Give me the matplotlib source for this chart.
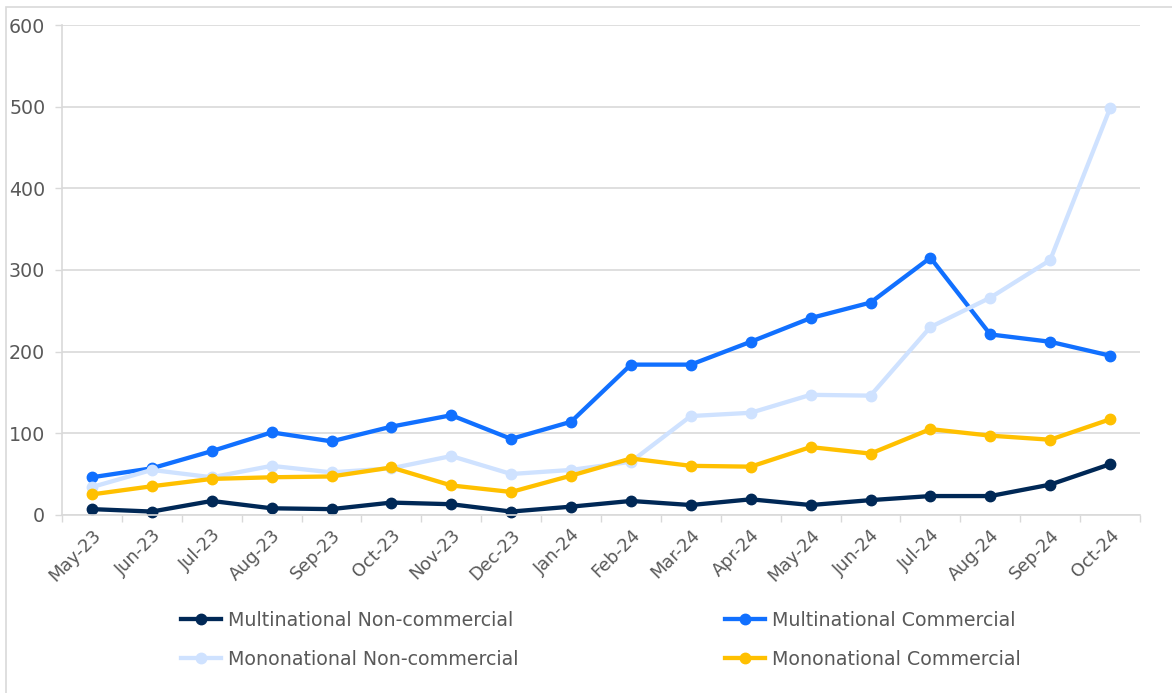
import numpy as np
import matplotlib.pyplot as plt
from matplotlib.patches import Rectangle

# data
months = ['May-23', 'Jun-23', 'Jul-23', 'Aug-23', 'Sep-23', 'Oct-23', 'Nov-23', 'Dec-23', 'Jan-24',
          'Feb-24', 'Mar-24', 'Apr-24', 'May-24', 'Jun-24', 'Jul-24', 'Aug-24', 'Sep-24', 'Oct-24']
multi_noncomm = [7, 4, 17, 8, 7, 15, 13, 4, 10, 17, 12, 19, 12, 18, 23, 23, 37, 62]
multi_comm = [46, 57, 78, 101, 90, 108, 122, 93, 114, 184, 184, 212, 241, 260, 315, 221, 212, 195]
mono_noncomm = [34, 55, 46, 60, 52, 57, 72, 50, 55, 65, 121, 125, 147, 146, 230, 266, 312, 498]
mono_comm = [25, 35, 44, 46, 47, 58, 36, 28, 48, 69, 60, 59, 83, 75, 105, 97, 92, 117]

names = ['Multinational Non-commercial', 'Multinational Commercial',
         'Mononational Non-commercial', 'Mononational Commercial']
colors = ['#002856', '#1170FF', '#CFE2FF', '#FFC000']

plt.rcParams['font.family'] = ['DejaVu Sans']

fig = plt.figure(figsize=(11.72, 6.93), dpi=100)
ax = fig.add_axes([0.0529, 0.2571, 0.9198, 0.7068])

#outer chart border
fig.patches.append(Rectangle((5.5 / 1172, -0.05), 1.1, 1 - 6.5 / 693 + 0.05,
                             transform=fig.transFigure, fill=False,
                             edgecolor='#d9d9d9', linewidth=1.2))

x = np.arange(len(months))
lines = []
for vals, name, c in zip([multi_noncomm, multi_comm, mono_noncomm, mono_comm], names, colors):
    ln, = ax.plot(x, vals, color=c, linewidth=3.1, marker='o', markersize=7.5,
                  label=name, solid_joinstyle='round', clip_on=False)
    lines.append(ln)

ax.set_xlim(-0.5, len(months) - 0.5)
ax.set_ylim(0, 600)
ax.set_yticks(range(0, 601, 100))
ax.set_xticks(x)
ax.set_xticklabels(months, rotation=45, ha='right', rotation_mode='anchor')
ax.set_xticks(np.arange(-0.5, len(months)), minor=True)
ax.tick_params(axis='x', which='major', length=0, pad=8, labelsize=12.8, labelcolor='#595959')
ax.tick_params(axis='x', which='minor', length=5, color='#d9d9d9', width=1)
ax.tick_params(axis='y', length=5, color='#d9d9d9', width=1, labelsize=13.7, labelcolor='#595959', pad=7)

ax.grid(axis='y', color='#d9d9d9', linewidth=1.2)
ax.set_axisbelow(True)
for s in ['top', 'right']:
    ax.spines[s].set_visible(False)
for s in ['left', 'bottom']:
    ax.spines[s].set_color('#d9d9d9')
    ax.spines[s].set_linewidth(1.2)

order = [0, 2, 1, 3]
fig.legend([lines[i] for i in order], [names[i] for i in order], ncol=2,
           loc='center', bbox_to_anchor=(0.5125, 0.077), frameon=False,
           fontsize=13.7, labelcolor='#595959', handlelength=2.1, handletextpad=0.37,
           columnspacing=10.85, labelspacing=1.05)

fig.savefig('out.png', dpi=100)
